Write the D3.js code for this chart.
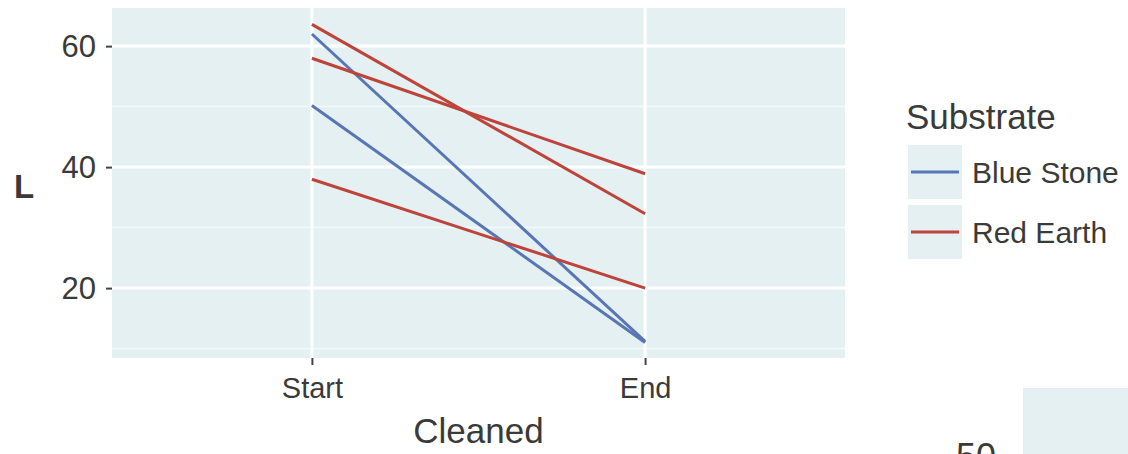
<!DOCTYPE html>
<html><head><meta charset="utf-8">
<script src="https://cdn.jsdelivr.net/npm/d3@7"></script>
<style>body{margin:0;background:#fff}svg{display:block}text{font-family:"Liberation Sans",Arial,sans-serif;fill:#3a3a3a}</style>
</head><body><svg id="c" width="1128" height="454"></svg>
<script>
const categories = ["Start", "End"];
const seriesNames = ["Blue Stone", "Red Earth"];
const seriesColors = ["#5876b4", "#be4339"];
const lineSeries = ["Blue Stone", "Blue Stone", "Red Earth", "Red Earth", "Red Earth"];
const startValues = [62.0, 50.2, 63.6, 58.0, 38.0];
const endValues = [11.2, 11.0, 32.3, 38.9, 20.0];
const yTicks = [20, 40, 60];
const yMinor = [10, 30, 50];

const svg = d3.select("#c");
const L = 112, R = 845, T = 8, B = 358;
const x = d3.scalePoint().domain(categories).range([L, R]).padding(0.6);
const y = d3.scaleLinear().domain([8.45, 66.3]).range([B, T]);
const color = d3.scaleOrdinal().domain(seriesNames).range(seriesColors);
const bg = "#e5f0f2";

svg.append("rect").attr("x", L).attr("y", T).attr("width", R - L).attr("height", B - T).attr("fill", bg);
const g = svg.append("g");
yMinor.forEach(v => g.append("line").attr("x1", L).attr("x2", R).attr("y1", y(v)).attr("y2", y(v)).attr("stroke", "#f3f9fa").attr("stroke-width", 1.5));
yTicks.forEach(v => g.append("line").attr("x1", L).attr("x2", R).attr("y1", y(v)).attr("y2", y(v)).attr("stroke", "#fff").attr("stroke-width", 3));
categories.forEach(c => g.append("line").attr("x1", x(c)).attr("x2", x(c)).attr("y1", T).attr("y2", B).attr("stroke", "#fff").attr("stroke-width", 3));

const line = d3.line().x(d => x(d[0])).y(d => y(d[1]));
startValues.forEach((s, i) => {
  svg.append("path").attr("d", line([["Start", s], ["End", endValues[i]]]))
    .attr("fill", "none").attr("stroke", color(lineSeries[i])).attr("stroke-width", 3);
});

// y axis
const ya = svg.append("g").attr("transform", `translate(${L},0)`)
  .call(d3.axisLeft(y).tickValues(yTicks).tickSize(6).tickPadding(10));
ya.select(".domain").remove();
ya.selectAll("line").attr("stroke", "#444").attr("stroke-width", 2);
ya.selectAll("text").attr("font-size", 31).attr("fill", "#3a3a3a").attr("font-family", "Liberation Sans, Arial, sans-serif");

// x axis
const xa = svg.append("g").attr("transform", `translate(0,${B})`)
  .call(d3.axisBottom(x).tickSize(7).tickPadding(12));
xa.select(".domain").remove();
xa.selectAll("line").attr("stroke", "#444").attr("stroke-width", 2);
xa.selectAll("text").attr("font-size", 29).attr("fill", "#3a3a3a").attr("font-family", "Liberation Sans, Arial, sans-serif").attr("dy", "0.71em");

svg.append("text").attr("x", (L + R) / 2).attr("y", 443).attr("text-anchor", "middle").attr("font-size", 35).text("Cleaned");
svg.append("text").attr("x", 14).attr("y", 198).attr("font-size", 33).attr("font-weight", "bold").text("L");

// legend
svg.append("text").attr("x", 906).attr("y", 129).attr("font-size", 35).text("Substrate");
seriesNames.forEach((n, i) => {
  const ky = 145 + i * 60;
  svg.append("rect").attr("x", 908).attr("y", ky).attr("width", 54).attr("height", 54).attr("fill", bg);
  svg.append("line").attr("x1", 911).attr("x2", 959).attr("y1", ky + 27).attr("y2", ky + 27).attr("stroke", color(n)).attr("stroke-width", 3);
  svg.append("text").attr("x", 972).attr("y", ky + 27).attr("dy", "0.36em").attr("font-size", 30).text(n);
});

// partial neighbouring panel
svg.append("rect").attr("x", 1023).attr("y", 388).attr("width", 105).attr("height", 66).attr("fill", bg);
svg.append("text").attr("x", 996).attr("y", 469).attr("text-anchor", "end").attr("font-size", 36).text("50");
</script></body></html>
